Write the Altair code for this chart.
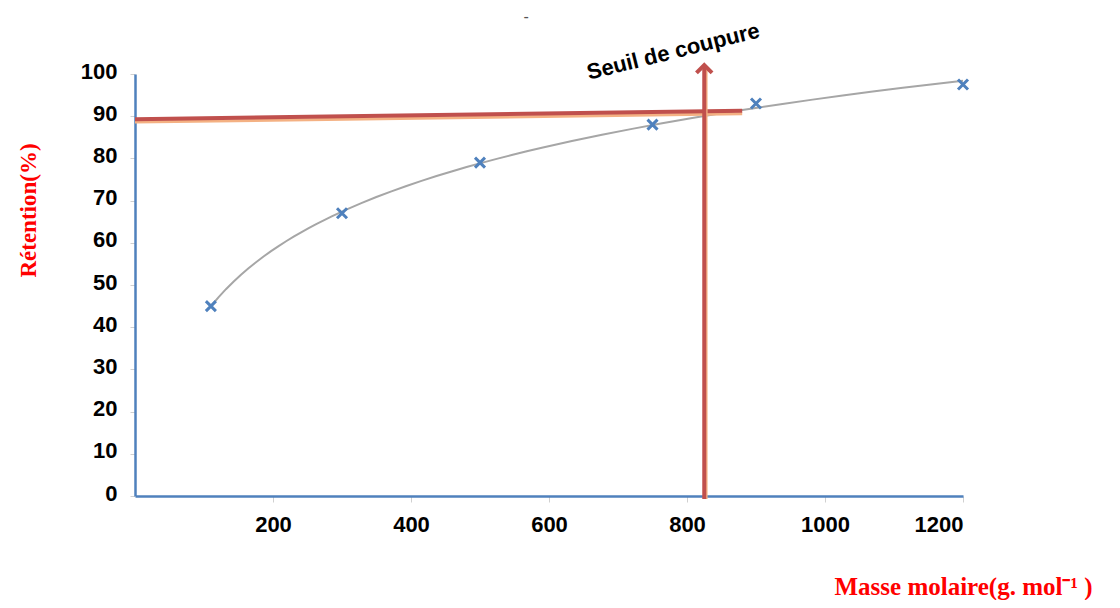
import altair as alt
import pandas as pd

# Measured data
masse = [110, 300, 500, 750, 900, 1200]
retention = [45, 67, 79, 88, 93, 97.5]

# Red horizontal cut-off line (hand drawn, slightly sloped) and its shadow
h_x = [0, 880]
h_y = [89.3, 91.3]
h_shadow_y = [88.6, 90.6]

# Vertical arrow
arrow_x = [825]
arrow_y0 = [-0.7]
arrow_y1 = [102.1]
arrow_shadow_x = [828]

label_text = ["Seuil de coupure"]
label_x = [780]
label_y = [105.3]

dash_text = ["-"]
dash_x = [567]
dash_y = [113.5]

x_ticks = [200, 400, 600, 800, 1000, 1200]
y_ticks = [0, 10, 20, 30, 40, 50, 60, 70, 80, 90, 100]

RED = "#c0504d"
TAN = "#f4b183"
BLUE = "#4f81bd"

pts = pd.DataFrame({"x": masse, "y": retention})
hline = pd.DataFrame({"x": h_x, "y": h_y})
hshadow = pd.DataFrame({"x": h_x, "y": h_shadow_y})
arrow = pd.DataFrame({"x": arrow_x, "y": arrow_y0, "y2": arrow_y1})
arrow_sh = pd.DataFrame({"x": arrow_shadow_x, "y": arrow_y0, "y2": [101.0]})
head = pd.DataFrame({"x": arrow_x, "y": arrow_y1})
lab = pd.DataFrame({"t": label_text, "x": label_x, "y": label_y})
dash = pd.DataFrame({"t": dash_text, "x": dash_x, "y": dash_y})

xscale = alt.Scale(domain=[0, 1200], nice=False, zero=False)
yscale = alt.Scale(domain=[0, 100], nice=False)

xaxis = alt.Axis(values=x_ticks, grid=False, format="d", domainColor=BLUE, domainWidth=2.5,
                 tickColor="#d0d0d0", tickSize=6, labelFont="Liberation Sans",
                 labelFontWeight="bold", labelFontSize=22, labelColor="black",
                 labelPadding=12,
                 title="Masse molaire(g. mol⁻¹ )", titleFont="Liberation Serif",
                 titleFontWeight="bold", titleFontSize=25, titleColor="#ff0000",
                 titleX=828, titleY=90, titleAlign="center", titleBaseline="middle")
yaxis = alt.Axis(values=y_ticks, grid=False, domainColor=BLUE, domainWidth=2.5,
                 tickColor="#d0d0d0", tickSize=5, labelFont="Liberation Sans",
                 labelFontWeight="bold", labelFontSize=22, labelColor="black",
                 labelPadding=13, labelOffset=-3,
                 title="Rétention(%)", titleFont="Liberation Serif",
                 titleFontWeight="bold", titleFontSize=23, titleColor="#ff0000",
                 titleX=-107, titleY=136, titleAlign="center", titleBaseline="middle",
                 titleAngle=270)

base_x = alt.X("x:Q", scale=xscale, axis=xaxis)
base_y = alt.Y("y:Q", scale=yscale, axis=yaxis)

trend = alt.Chart(pts).transform_regression(
    "x", "y", method="log", extent=[110, 1200]
).mark_line(color="#a6a6a6", strokeWidth=2).encode(x=base_x, y=base_y)

markers = alt.Chart(pts).mark_point(
    shape="M-1,-1L1,1M-1,1L1,-1", filled=False, color=BLUE, strokeWidth=3, size=100, opacity=1
).encode(x="x:Q", y="y:Q")

hs = alt.Chart(hshadow).mark_line(color=TAN, strokeWidth=3).encode(x="x:Q", y="y:Q")
hl = alt.Chart(hline).mark_line(color=RED, strokeWidth=4).encode(x="x:Q", y="y:Q")

ash = alt.Chart(arrow_sh).mark_rule(color=TAN, strokeWidth=2.5).encode(x="x:Q", y="y:Q", y2="y2:Q")
ar = alt.Chart(arrow).mark_rule(color=RED, strokeWidth=4).encode(x="x:Q", y="y:Q", y2="y2:Q")
ah = alt.Chart(head).mark_point(
    shape="M-0.9,0.9L0,0L0.9,0.9", filled=False, color=RED, strokeWidth=4, size=300, opacity=1
).encode(x="x:Q", y="y:Q")

txt = alt.Chart(lab).mark_text(
    font="Liberation Sans", fontWeight="bold", fontSize=22, angle=346, color="black"
).encode(x="x:Q", y="y:Q", text="t:N")

dsh = alt.Chart(dash).mark_text(
    font="Liberation Sans", fontSize=16, color="#555555"
).encode(x="x:Q", y="y:Q", text="t:N")

chart = alt.layer(trend, markers, hs, hl, ash, ar, ah, txt, dsh).properties(
    width=828, height=422,
    autosize=alt.AutoSizeParams(type="none"),
    padding={"left": 127, "top": 66, "right": 145, "bottom": 104},
).configure(background="white").configure_view(stroke=None)

chart.save("out.html", embed_options={"renderer": "svg", "actions": False})
